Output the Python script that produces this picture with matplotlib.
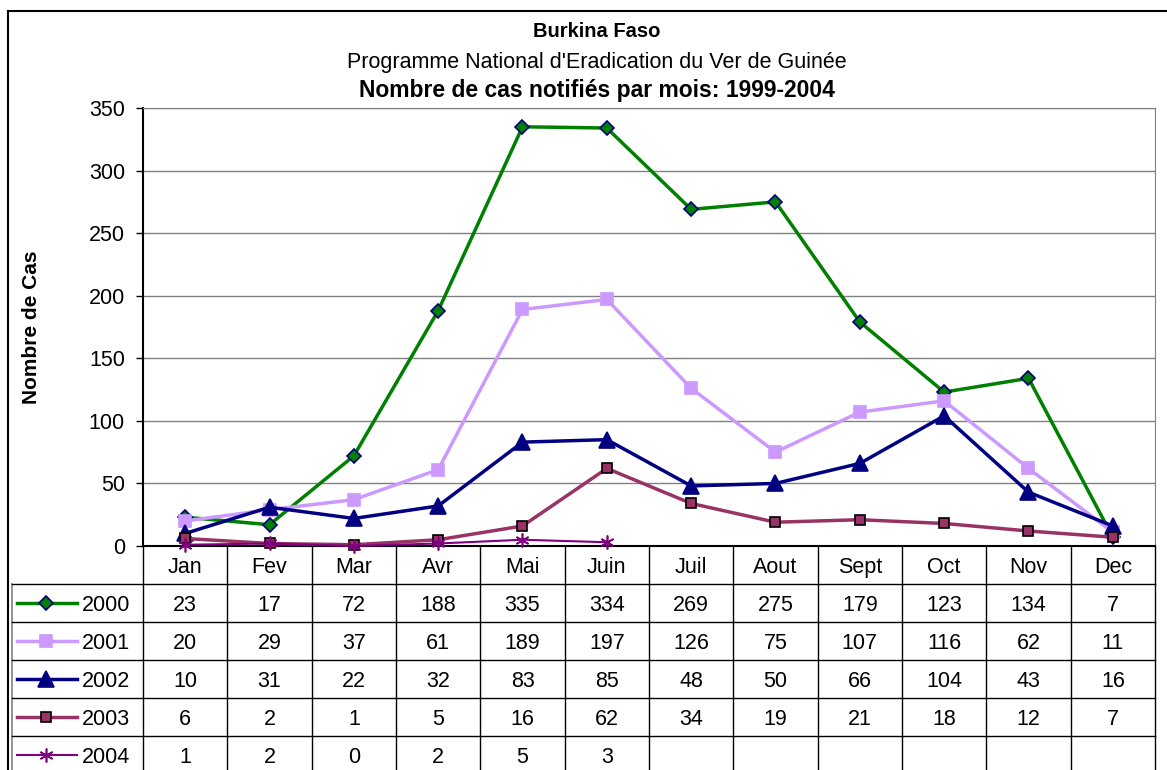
import numpy as np
import matplotlib.pyplot as plt
from matplotlib.lines import Line2D

plt.rcParams['font.family'] = ['Liberation Sans', 'DejaVu Sans']

# data
months = ["Jan", "Fev", "Mar", "Avr", "Mai", "Juin", "Juil", "Aout", "Sept", "Oct", "Nov", "Dec"]
years = ["2000", "2001", "2002", "2003", "2004"]
cas_2000 = [23, 17, 72, 188, 335, 334, 269, 275, 179, 123, 134, 7]
cas_2001 = [20, 29, 37, 61, 189, 197, 126, 75, 107, 116, 62, 11]
cas_2002 = [10, 31, 22, 32, 83, 85, 48, 50, 66, 104, 43, 16]
cas_2003 = [6, 2, 1, 5, 16, 62, 34, 19, 21, 18, 12, 7]
cas_2004 = [1, 2, 0, 2, 5, 3]
series = [cas_2000, cas_2001, cas_2002, cas_2003, cas_2004]

# style of each year: line colour, marker, marker size, face, edge, line width
styles = [
    dict(color="#008000", marker="D", ms=7.5, mfc="#008000", mec="#000080", lw=2.5),
    dict(color="#CC99FF", marker="s", ms=8, mfc="#CC99FF", mec="#CC99FF", lw=2.5),
    dict(color="#000080", marker="^", ms=11, mfc="#000080", mec="#000080", lw=2.5),
    dict(color="#993366", marker="s", ms=7.5, mfc="#993366", mec="black", lw=2.5),
    dict(color="#800080", marker=(6, 2, 0), ms=10, mfc="#800080", mec="#800080", lw=1.5),
]

W, H = 1167, 770
fig = plt.figure(figsize=(W / 100, H / 100), dpi=100)

# layout in pixels
px_left, px_right = 143, 1155
px_top, px_bottom = 108, 546
row_h = 38
tab_left = 12
fs = 15.5

ax = fig.add_axes([px_left / W, 1 - px_bottom / H, (px_right - px_left) / W, (px_bottom - px_top) / H])
x = np.arange(len(months)) + 0.5
for vals, st in zip(series, styles):
    ax.plot(x[:len(vals)], vals, color=st["color"], lw=st["lw"], marker=st["marker"],
            ms=st["ms"], mfc=st["mfc"], mec=st["mec"], mew=1.2, clip_on=False, zorder=3)
ax.set_xlim(0, 12)
ax.set_ylim(0, 350)
ax.set_yticks(np.arange(0, 351, 50))
ax.set_xticks([])
ax.tick_params(axis="y", labelsize=fs, direction="out", length=5, width=1, pad=8)
ax.grid(axis="y", color="#808080", lw=1)
ax.set_axisbelow(True)
for side in ["top", "right"]:
    ax.spines[side].set_color("#808080")
ax.spines["left"].set_linewidth(1.5)
ax.spines["bottom"].set_linewidth(1.5)
ax.set_ylabel("Nombre de Cas", fontsize=15, fontweight="bold", labelpad=34)

# overlay in pixel coords for frame, titles and the data table
ov = fig.add_axes([0, 0, 1, 1], zorder=-1)
ov.set_xlim(0, W)
ov.set_ylim(H, 0)
ov.axis("off")

ov.plot([8, W], [11, 11], color="black", lw=1.5)
ov.plot([8, 8], [11, H], color="black", lw=1.5)

ov.text(597, 37, "Burkina Faso", ha="center", va="baseline", fontsize=14.5, fontweight="bold")
ov.text(597, 68, "Programme National d'Eradication du Ver de Guinée", ha="center", va="baseline", fontsize=15.5)
ov.text(597, 97, "Nombre de cas notifiés par mois: 1999-2004", ha="center", va="baseline", fontsize=16.5, fontweight="bold")

col_w = (px_right - px_left) / len(months)
tab_bottom = H
# vertical lines
for k in range(len(months) + 1):
    xv = px_left + k * col_w
    ov.plot([xv, xv], [px_bottom, tab_bottom], color="black", lw=1)
ov.plot([tab_left, tab_left], [px_bottom + row_h, tab_bottom], color="#808080", lw=1.2)
# horizontal lines
for r in range(len(years)):
    yh = px_bottom + (r + 1) * row_h
    ov.plot([tab_left, px_right], [yh, yh], color="black", lw=1)

# month header
for k, m in enumerate(months):
    ov.text(px_left + (k + 0.5) * col_w, px_bottom + row_h / 2, m, ha="center",
            va="center_baseline", fontsize=fs)

# rows
for r, (yr, vals, st) in enumerate(zip(years, series, styles)):
    yc = px_bottom + (r + 1.5) * row_h
    ov.add_line(Line2D([17, 77], [yc, yc], color=st["color"], lw=st["lw"]))
    ov.add_line(Line2D([46], [yc], marker=st["marker"], ms=st["ms"], mfc=st["mfc"],
                       mec=st["mec"], mew=1.2, color=st["color"]))
    ov.text(82, yc, yr, ha="left", va="center_baseline", fontsize=fs)
    for k, v in enumerate(vals):
        ov.text(px_left + (k + 0.5) * col_w, yc, str(v), ha="center", va="center_baseline", fontsize=fs)

fig.savefig("out.png", dpi=100)
